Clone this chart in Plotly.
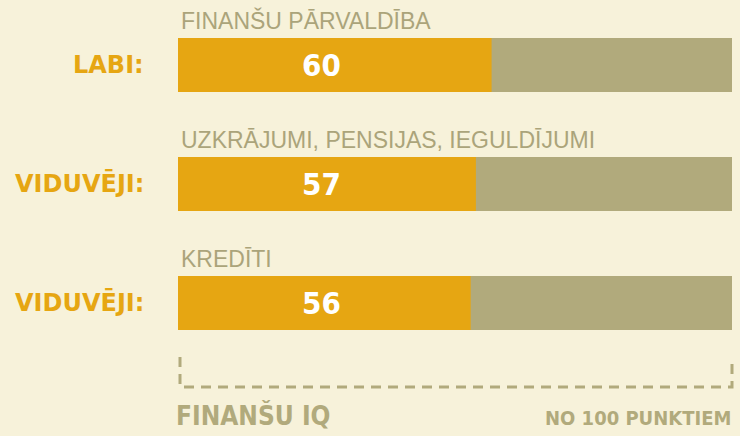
import plotly.graph_objects as go

# ---- data ----
categories = ["FINANŠU PĀRVALDĪBA", "UZKRĀJUMI, PENSIJAS, IEGULDĪJUMI", "KREDĪTI"]
ratings = ["LABI:", "VIDUVĒJI:", "VIDUVĒJI:"]
scores = [60, 57, 56]
scale_max = 106
footer_left = "FINANŠU IQ"
footer_right = "NO 100 PUNKTIEM"

# ---- style ----
BG = "#F7F2DA"
ORANGE = "#E6A612"
TAN = "#B1AA7C"
TEXT_TAN = "#ABA47A"
W, H = 740, 436
X0, X1 = 178, 732
COND = "DejaVu Sans Condensed, Liberation Sans, Arial"

fig = go.Figure()
fig.add_trace(go.Bar(
    y=categories, x=[scale_max] * len(categories), orientation="h",
    marker=dict(color=TAN, line=dict(width=0)), width=0.454,
    hoverinfo="skip", showlegend=False))
fig.add_trace(go.Bar(
    y=categories, x=scores, orientation="h",
    marker=dict(color=ORANGE, line=dict(width=0)), width=0.454,
    showlegend=False))

annotations = []
for cat, rating, score in zip(categories, ratings, scores):
    annotations.append(dict(
        x=(X0 + 1) / W, xref="paper", y=cat, yref="y", xanchor="left", yanchor="middle",
        yshift=44, text=cat, showarrow=False,
        font=dict(family="Liberation Sans, Arial", size=23, color=TEXT_TAN)))
    annotations.append(dict(
        x=146 / W, xref="paper", y=cat, yref="y", xanchor="right", yanchor="middle",
        text=f"<b>{rating}</b>", showarrow=False,
        font=dict(family="DejaVu Sans, Liberation Sans", size=24, color=ORANGE)))
    annotations.append(dict(
        x=321 / W, xref="paper", y=cat, yref="y", xanchor="center", yanchor="middle",
        yshift=0, text=f"<b>{score}</b>", showarrow=False,
        font=dict(family=COND, size=31, color="white")))

annotations.append(dict(
    x=174 / W, xref="paper", y=1 - 415 / H, yref="paper", xanchor="left", yanchor="middle",
    text=f"<b>{footer_left}</b>", showarrow=False,
    font=dict(family=COND, size=26, color=TAN)))
annotations.append(dict(
    x=733 / W, xref="paper", y=1 - 418 / H, yref="paper", xanchor="right", yanchor="middle",
    text=f"<b>{footer_right}</b>", showarrow=False,
    font=dict(family=COND, size=20, color=TAN)))

def px(xp):
    return xp / W

def py(yp):
    return 1 - yp / H

bracket = (f"M {px(180)} {py(357)} L {px(180)} {py(387)} "
           f"L {px(732)} {py(387)} L {px(732)} {py(357)}")

fig.update_layout(
    width=W, height=H,
    paper_bgcolor=BG, plot_bgcolor=BG,
    margin=dict(l=0, r=0, t=0, b=0),
    barmode="overlay",
    xaxis=dict(domain=[X0 / W, X1 / W], range=[0, scale_max], visible=False, fixedrange=True),
    yaxis=dict(range=[3.118, -0.546], visible=False, fixedrange=True, domain=[0, 1]),
    annotations=annotations,
    shapes=[dict(type="path", path=bracket, xref="paper", yref="paper",
                 line=dict(color=TAN, width=3, dash="10px,7px"))],
)

fig.write_html("out.html", config={"displayModeBar": False},
               post_script="document.body.style.margin='0';document.body.style.background='%s';" % BG)
